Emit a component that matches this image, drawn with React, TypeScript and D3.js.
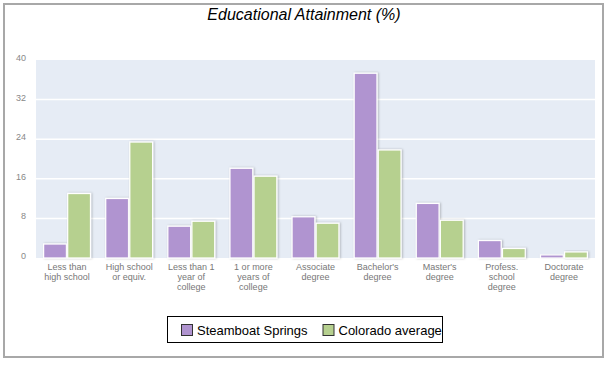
import React from "react";
import * as d3 from "d3";

const width = 611;
const height = 365;
const margin = { top: 60, right: 16, bottom: 107, left: 36 };

// categories, each label split into lines
const categories = [
  ["Less than", "high school"],
  ["High school", "or equiv."],
  ["Less than 1", "year of", "college"],
  ["1 or more", "years of", "college"],
  ["Associate", "degree"],
  ["Bachelor's", "degree"],
  ["Master's", "degree"],
  ["Profess.", "school", "degree"],
  ["Doctorate", "degree"],
];
const steamboat = [2.7, 11.9, 6.3, 18.0, 8.2, 37.2, 10.9, 3.4, 0.5];
const colorado = [12.9, 23.3, 7.3, 16.4, 6.9, 21.7, 7.5, 1.8, 1.1];
const yTicks = [0, 8, 16, 24, 32, 40];
const seriesNames = ["Steamboat Springs", "Colorado average"];
const colors = ["#b094d0", "#b6d08f"];

export default function App() {
  const innerW = width - margin.left - margin.right;
  const innerH = height - margin.top - margin.bottom;

  const x0 = d3.scaleBand<number>()
    .domain(d3.range(categories.length))
    .range([margin.left, margin.left + innerW])
    .paddingInner(0.225)
    .paddingOuter(0.1125);
  const x1 = d3.scaleBand<number>()
    .domain([0, 1])
    .range([0, x0.bandwidth()]);
  const y = d3.scaleLinear().domain([0, 40]).range([margin.top + innerH, margin.top]);

  const series = [steamboat, colorado];
  const sw = 1.25;

  return (
    <svg width={width} height={height} style={{ position: "absolute", left: 0, top: 0 }}>
      <defs>
        <filter id="shadow" x="-20%" y="-20%" width="140%" height="140%">
          <feDropShadow dx="1" dy="0" stdDeviation="1" floodColor="#000" floodOpacity="0.25" />
        </filter>
      </defs>
      <rect x={0} y={0} width={width} height={height} fill="#fff" />
      {/* rahmen */}
      <rect x={4} y={4} width={599} height={353} fill="none" stroke="#a8a8a8" strokeWidth={2} />

      <text x={304} y={20} textAnchor="middle" fontFamily="Liberation Sans, Arial, sans-serif"
        fontStyle="italic" fontSize={16} fill="#000">Educational Attainment (%)</text>

      <rect x={margin.left} y={margin.top} width={innerW} height={innerH} fill="#e6ecf5" />
      {yTicks.slice(1, -1).map(t => (
        <line key={t} x1={margin.left} x2={margin.left + innerW} y1={y(t)} y2={y(t)}
          stroke="#fff" strokeWidth={1.5} />
      ))}
      {yTicks.map(t => (
        <text key={t} x={26} y={y(t) + 1} textAnchor="end" fontFamily="Liberation Sans, Arial, sans-serif"
          fontSize={9} fill="#888">{t}</text>
      ))}

      {categories.map((c, i) => (
        <g key={i} transform={"translate(" + x0(i) + ",0)"}>
          {series.map((s, j) => (
            <rect key={j} x={(x1(j) as number) + sw / 2} y={y(s[i]) - sw / 2}
              width={x1.bandwidth() - sw} height={Math.max(0, y(0) - y(s[i]) + sw / 2)}
              fill={colors[j]} stroke="#fff" strokeWidth={sw} filter="url(#shadow)" />
          ))}
          <text textAnchor="middle" fontFamily="Liberation Sans, Arial, sans-serif" fontSize={9} fill="#777">
            {c.map((line, k) => (
              <tspan key={k} x={x0.bandwidth() / 2} y={270 + k * 10}>{line}</tspan>
            ))}
          </text>
        </g>
      ))}

      {/* legende */}
      <rect x={167.5} y={316.5} width={275} height={26} fill="#fff" stroke="#000" strokeWidth={1} />
      {seriesNames.map((n, j) => {
        const lx = j === 0 ? 181 : 322.5;
        return (
          <g key={n}>
            <rect x={lx + 0.5} y={324.5} width={11} height={11} fill={colors[j]} stroke="#333" strokeWidth={1} />
            <text x={lx + 16} y={334.5} fontFamily="Liberation Sans, Arial, sans-serif" fontSize={13} fill="#000">{n}</text>
          </g>
        );
      })}
    </svg>
  );
}
